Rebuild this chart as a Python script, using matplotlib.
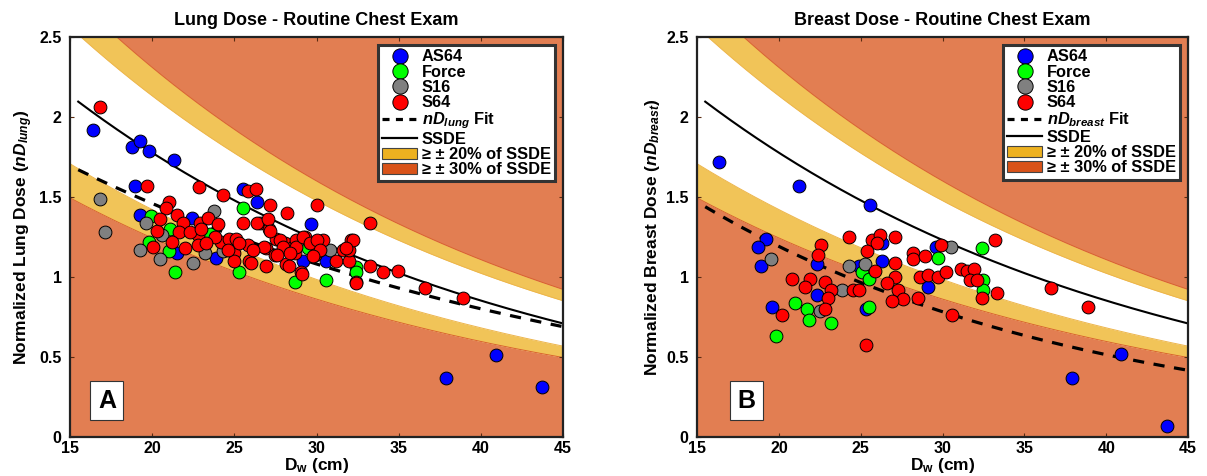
import numpy as np
import matplotlib
matplotlib.use("Agg")
import matplotlib.pyplot as plt
from matplotlib.lines import Line2D
from matplotlib.patches import Patch

plt.rcParams['font.family'] = ['Liberation Sans', 'DejaVu Sans']
plt.rcParams['font.weight'] = 'bold'
plt.rcParams['axes.labelweight'] = 'bold'
plt.rcParams['mathtext.fontset'] = 'custom'
plt.rcParams['mathtext.it'] = 'Liberation Sans:italic:bold'
plt.rcParams['mathtext.rm'] = 'Liberation Sans:bold'
plt.rcParams['mathtext.bf'] = 'Liberation Sans:bold'

# SSDE conversion curve (a*exp(-b*Dw)) and fitted curves
ssde_coef = (3.704369, 0.03671937)
lung_fit_coef = (2.66, 0.030)
breast_fit_coef = (2.76, 0.042)

# ---- Lung panel data (Dw in cm, normalized dose) ----
lung_as64_x = [16.4, 18.8, 19.25, 19.8, 21.3, 18.95, 25.5, 26.35, 29.65, 19.25, 22.45, 21.5, 23.9,
               29.2, 30.6, 37.9, 40.9, 43.7]
lung_as64_y = [1.92, 1.81, 1.85, 1.79, 1.73, 1.57, 1.55, 1.47, 1.33, 1.39, 1.37, 1.15, 1.12,
               1.10, 1.10, 0.37, 0.51, 0.31]
lung_force_x = [25.5, 19.9, 21.1, 23.5, 19.8, 21.0, 21.4, 25.3, 28.7, 30.6, 32.4, 32.4, 29.5]
lung_force_y = [1.43, 1.38, 1.30, 1.27, 1.22, 1.16, 1.03, 1.03, 0.97, 0.98, 1.06, 1.03, 1.18]
lung_s16_x = [16.85, 17.15, 23.75, 19.6, 20.6, 19.25, 20.5, 22.5, 23.2, 24.3, 30.8]
lung_s16_y = [1.49, 1.28, 1.41, 1.34, 1.26, 1.17, 1.11, 1.09, 1.15, 1.16, 1.17]
lung_s64_x = [16.8, 19.7, 22.85, 24.3, 25.85, 26.3, 27.15, 30.0, 28.2, 33.25,
              21.0, 20.85, 21.5, 21.9, 20.3, 21.65, 22.9, 23.4, 22.8, 22.8, 20.05,
              24.2, 24.7, 25.1, 25.5, 25.0, 25.0, 25.8, 25.9, 25.3,
              26.55, 27.1, 26.95, 27.56, 28.07, 27.46, 28.17, 28.58, 28.78, 28.68, 29.08,
              29.28, 29.9, 30.4, 30.0, 31.2, 31.6, 32.1, 32.0, 32.4,
              26.35, 27.06, 27.16, 27.77, 27.97, 28.78, 29.19, 29.59, 30.0, 30.2, 29.8,
              28.4, 27.6, 26.8, 26.14, 26.04, 32.0, 32.2, 31.8, 28.3, 29.1, 33.24,
              34.05, 34.96, 32.4, 36.6, 38.9, 26.95,
              20.5, 21.2, 22.3, 23.0, 23.8, 24.0, 22.0, 24.6, 23.3]
lung_s64_y = [2.06, 1.57, 1.56, 1.51, 1.54, 1.55, 1.45, 1.45, 1.40, 1.34,
              1.47, 1.43, 1.39, 1.34, 1.29, 1.28, 1.34, 1.37, 1.26, 1.20, 1.19,
              1.22, 1.24, 1.24, 1.34, 1.15, 1.10, 1.20, 1.10, 1.21,
              1.34, 1.30, 1.18, 1.24, 1.21, 1.14, 1.08, 1.19, 1.23, 1.15, 1.03,
              1.25, 1.14, 1.23, 1.16, 1.10, 1.17, 1.23, 1.10, 0.97,
              1.34, 1.36, 1.29, 1.23, 1.19, 1.19, 1.25, 1.21, 1.23, 1.17, 1.13,
              1.15, 1.14, 1.19, 1.17, 1.09, 1.17, 1.23, 1.18, 1.07, 1.02, 1.07,
              1.03, 1.04, 0.96, 0.93, 0.87, 1.07,
              1.36, 1.22, 1.28, 1.30, 1.25, 1.33, 1.18, 1.17, 1.21]

# ---- Breast panel data ----
breast_as64_x = [16.35, 21.2, 25.55, 19.2, 18.75, 18.9, 22.3, 24.9, 26.3, 26.3, 29.6, 29.1,
                 22.3, 19.6, 25.3, 37.9, 40.9, 43.7]
breast_as64_y = [1.72, 1.57, 1.45, 1.24, 1.19, 1.07, 1.08, 1.07, 1.21, 1.10, 1.19, 0.94,
                 0.89, 0.81, 0.80, 0.37, 0.52, 0.07]
breast_force_x = [25.05, 25.5, 29.7, 32.4, 32.5, 32.5, 20.98, 21.7, 21.86, 23.2, 19.8, 25.5]
breast_force_y = [1.03, 0.99, 1.12, 1.18, 0.98, 0.92, 0.84, 0.80, 0.73, 0.71, 0.63, 0.81]
breast_s16_x = [19.5, 24.3, 25.26, 30.5, 23.84, 22.5]
breast_s16_y = [1.11, 1.07, 1.08, 1.19, 0.92, 0.79]
breast_s64_x = [24.3, 25.7, 26.2, 27.1, 25.98, 25.4, 22.6, 22.4, 27.1, 27.1, 26.6, 27.3, 27.6,
                26.9, 28.5, 28.2, 28.2, 28.9, 29.9, 28.6, 29.1, 29.7, 30.2, 31.1, 31.5, 31.9,
                31.7, 32.1, 32.4, 33.2, 33.3, 30.6, 20.8, 21.9, 21.6, 22.8, 23.2, 23.0, 22.8,
                24.5, 24.9, 20.2, 25.3, 25.9, 36.6, 38.9]
breast_s64_y = [1.25, 1.23, 1.26, 1.25, 1.21, 1.16, 1.20, 1.14, 1.09, 1.00, 0.96, 0.92, 0.86,
                0.85, 0.87, 1.15, 1.11, 1.13, 1.20, 1.00, 1.01, 1.00, 1.03, 1.05, 1.04, 1.05,
                0.98, 0.98, 0.87, 1.23, 0.90, 0.76, 0.99, 0.99, 0.94, 0.97, 0.92, 0.87, 0.80,
                0.92, 0.92, 0.76, 0.575, 1.04, 0.93, 0.81]

scanners = ['AS64', 'Force', 'S16', 'S64']
scanner_colors = ['#0000FF', '#00FF00', '#808080', '#FF0000']

band_yellow = '#F1C458'
band_orange = '#E27E52'
leg_yellow = '#EDB120'
leg_orange = '#D95319'


def draw_panel(ax, series, fit, organ, title, letter, letter_x):
    xx = np.linspace(15, 45, 400)
    s = ssde_coef[0] * np.exp(-ssde_coef[1] * xx)
    ax.fill_between(xx, 0, 0.7 * s, color=band_orange, lw=0, zorder=0)
    ax.fill_between(xx, 0.7 * s, 0.8 * s, color=band_yellow, lw=0, zorder=0)
    ax.fill_between(xx, 1.2 * s, 1.3 * s, color=band_yellow, lw=0, zorder=0)
    ax.fill_between(xx, 1.3 * s, 3, color=band_orange, lw=0, zorder=0)
    for f, c in [(0.7, '#D9622E'), (0.8, '#EDB54A'), (1.2, '#EDB54A'), (1.3, '#D9622E')]:
        ax.plot(xx, f * s, color=c, lw=0.7, zorder=1)

    xl = np.linspace(15.5, 44.9, 300)
    ax.plot(xl, ssde_coef[0] * np.exp(-ssde_coef[1] * xl), color='k', lw=1.5, zorder=2)
    ax.plot(xl, fit[0] * np.exp(-fit[1] * xl), color='k', lw=2.3, ls=(0, (3.5, 3)), zorder=2)

    for (sx, sy), col in zip(series, scanner_colors):
        ax.scatter(sx, sy, s=85, c=col, edgecolors='k', linewidths=0.7, zorder=3)

    ax.set_xlim(15, 45)
    ax.set_ylim(0, 2.5)
    ax.set_xticks([15, 20, 25, 30, 35, 40, 45])
    ax.set_yticks([0, 0.5, 1, 1.5, 2, 2.5])
    ax.set_yticklabels(['0', '0.5', '1', '1.5', '2', '2.5'])
    ax.tick_params(direction='in', top=True, right=True, length=3, labelsize=11.5,
                   color='#5a2a10')
    ax.tick_params(axis='x', pad=3)
    ax.tick_params(axis='y', pad=6)
    for sp in ax.spines.values():
        sp.set_linewidth(1.6)
        sp.set_color('#222222')
    ax.set_title(title, fontsize=13, fontweight='bold', pad=9)
    ax.set_xlabel(r'D$_{\rm w}$ (cm)', fontsize=12.5, labelpad=0)
    ax.set_ylabel('Normalized %s Dose ($nD_{%s}$)' % (organ.capitalize(), organ),
                  fontsize=12.5, labelpad=3)

    handles = [Line2D([], [], marker='o', ls='none', mfc=c, mec='k', mew=0.7, ms=11)
               for c in scanner_colors]
    handles += [Line2D([], [], color='k', lw=2.3, ls=(0, (2.2, 2))),
                Line2D([], [], color='k', lw=1.6),
                Patch(fc=leg_yellow, ec='#444444', lw=0.8),
                Patch(fc=leg_orange, ec='#444444', lw=0.8)]
    labels = scanners + ['$nD_{%s}$ Fit' % organ, 'SSDE',
                         '≥ ± 20% of SSDE', '≥ ± 30% of SSDE']
    leg = ax.legend(handles, labels, loc='upper right', labelspacing=0.02,
                    handlelength=2.1, handletextpad=0.3, borderpad=0.25,
                    borderaxespad=0.5, fancybox=False, framealpha=1,
                    prop={'weight': 'bold', 'size': 11.8})
    leg.get_frame().set_edgecolor('#333333')
    leg.get_frame().set_linewidth(2.2)

    ax.text(letter_x, 0.09, letter, transform=ax.transAxes, fontsize=18, fontweight='bold',
            ha='center', va='center', zorder=5,
            bbox=dict(boxstyle='square,pad=0.3', fc='white', ec='#333333', lw=0.8))


fig = plt.figure(figsize=(12.07, 4.76), dpi=100)
ax1 = fig.add_axes([0.058, 0.082, 0.4085, 0.840])
ax2 = fig.add_axes([0.5775, 0.082, 0.4068, 0.840])

draw_panel(ax1, [(lung_as64_x, lung_as64_y), (lung_force_x, lung_force_y),
                 (lung_s16_x, lung_s16_y), (lung_s64_x, lung_s64_y)],
           lung_fit_coef, 'lung', 'Lung Dose - Routine Chest Exam', 'A', 0.075)
draw_panel(ax2, [(breast_as64_x, breast_as64_y), (breast_force_x, breast_force_y),
                 (breast_s16_x, breast_s16_y), (breast_s64_x, breast_s64_y)],
           breast_fit_coef, 'breast', 'Breast Dose - Routine Chest Exam', 'B', 0.1)

fig.savefig('out.png', dpi=100)
